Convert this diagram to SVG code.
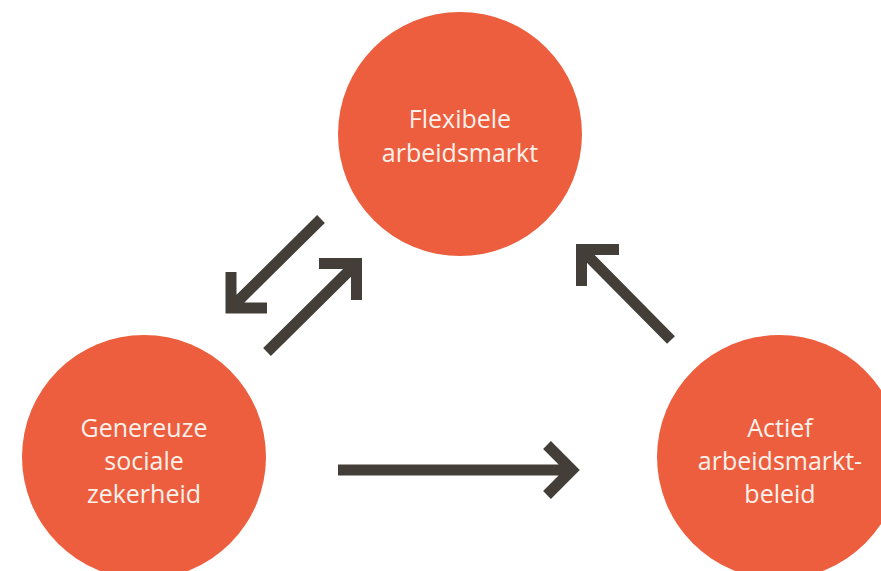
<svg xmlns="http://www.w3.org/2000/svg" width="881" height="571" viewBox="0 0 881 571">
<style>
.node{fill:#ec5e3e}
.lbl{font-family:"Open Sans","Noto Sans",sans-serif;font-size:25px;fill:#fdf1ec;text-anchor:middle}
.arr{fill:none;stroke:#433f38;stroke-width:11;stroke-linecap:butt;stroke-linejoin:miter;stroke-miterlimit:10}
</style>
<rect width="881" height="571" fill="#ffffff"/>
<g id="node-flexibele">
<circle class="node" cx="460" cy="134" r="122"/>
<text class="lbl" x="460" y="128">Flexibele</text>
<text class="lbl" x="460" y="162">arbeidsmarkt</text>
</g>
<g id="node-genereuze">
<circle class="node" cx="144" cy="457" r="122"/>
<text class="lbl" x="144" y="437">Genereuze</text>
<text class="lbl" x="144" y="470">sociale</text>
<text class="lbl" x="144" y="503">zekerheid</text>
</g>
<g id="node-actief">
<circle class="node" cx="779" cy="457" r="122"/>
<text class="lbl" x="780" y="437">Actief</text>
<text class="lbl" x="780" y="470">arbeidsmarkt-</text>
<text class="lbl" x="780" y="503">beleid</text>
</g>
<g id="connectors">
<path class="arr" d="M321 219 L231 308 M231 272 L231 308 L267 308"/>
<path class="arr" d="M267 352 L356.5 263.5 M319 263.5 L356.5 263.5 L356.5 300"/>
<path class="arr" d="M671 340 L581.5 249.5 M619 249.5 L581.5 249.5 L581.5 286"/>
<path class="arr" d="M338 470 L572 470 M547 445 L572 470 L547 495"/>
</g>
</svg>
